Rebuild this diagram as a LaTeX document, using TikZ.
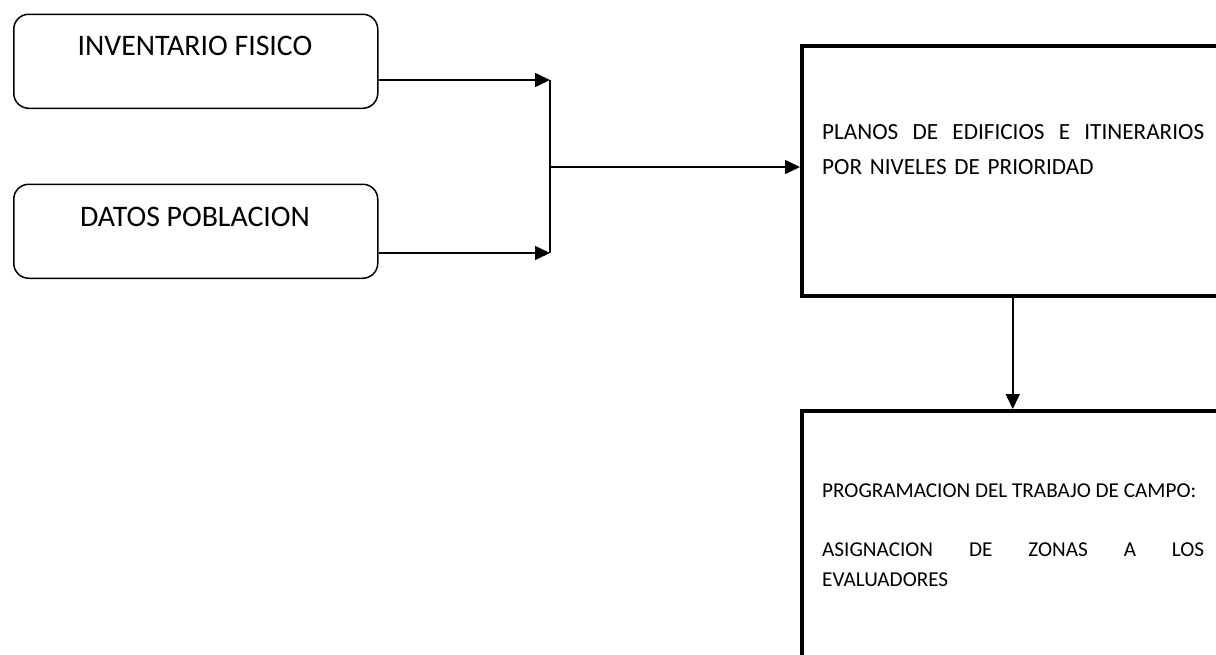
\documentclass[tikz,border=0pt]{standalone}
\usepackage{fontspec}
\setmainfont{Carlito}
\usetikzlibrary{arrows.meta}
\begin{document}
\begin{tikzpicture}[x=1pt,y=-1pt,
  rbox/.style={draw, line width=1.5pt, rounded corners=15pt, minimum width=364pt, minimum height=94pt, inner sep=0pt, anchor=north west},
  sbox/.style={draw, line width=3.5pt, minimum width=422pt, inner sep=0pt, anchor=north west},
  conn/.style={line width=1.5pt},
  arr/.style={conn, -{Triangle[length=15pt,width=14pt]}},
  lbl/.style={inner sep=0pt, anchor=base, font=\fontsize{29.8}{35}\selectfont},
  para/.style={inner sep=0pt, anchor=base west, text width=382pt, align=left},
  line/.style={inner sep=0pt, anchor=base west}]
\clip (0,0) rectangle (1216,654);
\fill[white] (0,0) rectangle (1216,654);
% left rounded boxes
\node[rbox] (b1) at (13,13.5) {};
\node[rbox] (b2) at (13,183.5) {};
\node[lbl] (t1) at (195,55) {INVENTARIO FISICO};
\node[lbl] (t2) at (195,226) {DATOS POBLACION};
% right boxes
\node[sbox, minimum height=250pt] (b3) at (800,44) {};
\node[sbox, minimum height=290pt] (b4) at (800,409) {};
\node[para, font=\fontsize{23.2}{35}\selectfont] (t3) at (822,139)
  {PLANOS\hfill DE\hfill EDIFICIOS\hfill E\hfill ITINERARIOS\\POR NIVELES DE PRIORIDAD};
\node[line, font=\fontsize{21.2}{30}\selectfont] (t4a) at (822,497)
  {PROGRAMACION DEL TRABAJO DE CAMPO:};
\node[para, font=\fontsize{21.2}{30}\selectfont] (t4b) at (822,556)
  {ASIGNACION\hfill DE\hfill ZONAS\hfill A\hfill LOS\\EVALUADORES};
% connectors
\coordinate (j1) at (550,80);
\coordinate (j2) at (550,253);
\coordinate (jm) at (550,167);
\draw[arr] (b1.east |- j1) -- (j1);
\draw[arr] (b2.east |- j2) -- (j2);
\draw[conn] (j1) -- (j2);
\draw[arr] (jm) -- (jm -| b3.west);
\draw[arr] (b3.south) -- (b4.north);
\end{tikzpicture}
\end{document}
